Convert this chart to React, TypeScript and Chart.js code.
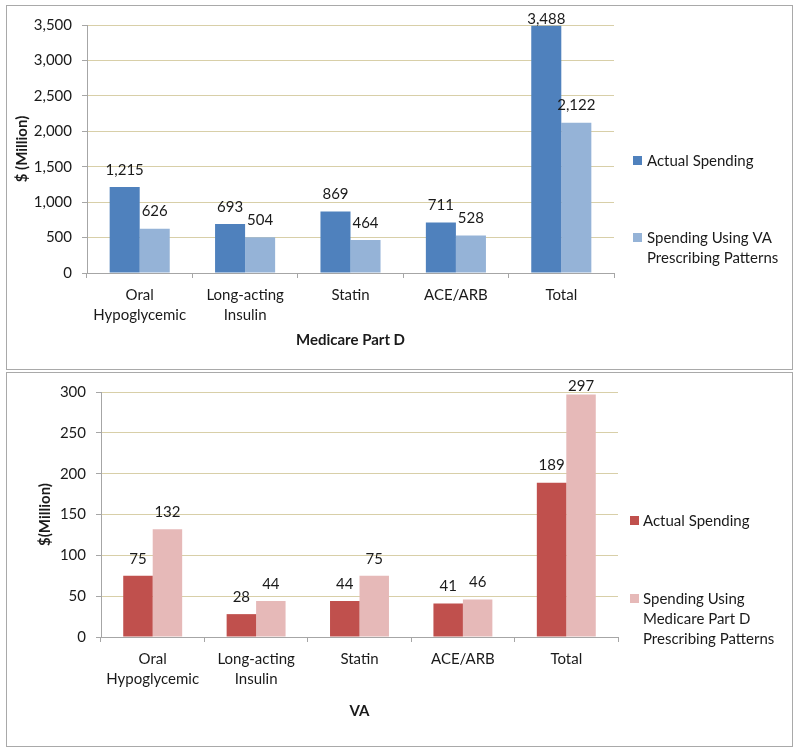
import React, { useEffect, useRef } from 'react';
import { Chart, registerables } from 'chart.js';
Chart.register(...registerables);

// ---- data ----
const categories = [['Oral', 'Hypoglycemic'], ['Long-acting', 'Insulin'], 'Statin', 'ACE/ARB', 'Total'];
const medicareActual = [1215, 693, 869, 711, 3488];
const medicareVAPattern = [626, 504, 464, 528, 2122];
const vaActual = [75, 28, 44, 41, 189];
const vaMedicarePattern = [132, 44, 75, 46, 297];
const medicareLegend = [['Actual Spending'], ['Spending Using VA', 'Prescribing Patterns']];
const vaLegend = [['Actual Spending'], ['Spending Using', 'Medicare Part D', 'Prescribing Patterns']];

const FONT = 'Lato, "Open Sans", sans-serif';
const TEXT = '#1a1a1a';
const GRID = '#D8CFA8';
const AXIS = '#A6A6A6';

const overlayPlugin = {
  id: 'overlay',
  afterDatasetsDraw(chart: any) {
    const opts = chart.options.plugins.overlay;
    const ctx = chart.ctx;
    const area = chart.chartArea;
    ctx.save();
    ctx.font = `15px ${FONT}`;
    ctx.fillStyle = TEXT;
    ctx.textAlign = 'center';
    ctx.textBaseline = 'middle';
    chart.data.datasets.forEach((ds: any, di: number) => {
      const meta = chart.getDatasetMeta(di);
      meta.data.forEach((el: any, i: number) => {
        const v = ds.data[i];
        const y = Math.max(el.y - 17, area.top - 6);
        ctx.fillText(v.toLocaleString('en-US'), el.x, y);
      });
    });
    // legend
    ctx.textAlign = 'left';
    opts.legend.forEach((lines: string[], li: number) => {
      const baseY = opts.legendY[li];
      ctx.fillStyle = chart.data.datasets[li].backgroundColor;
      ctx.fillRect(area.right + opts.boxDx, baseY - 5, 9, 9);
      ctx.fillStyle = TEXT;
      lines.forEach((t, k) => {
        ctx.fillText(t, area.right + opts.textDx, baseY + k * 20);
      });
    });
    ctx.restore();
  },
};

type Cfg = {
  width: number; height: number;
  a: number[]; b: number[];
  colA: string; colB: string;
  labelA: string; labelB: string;
  max: number; step: number;
  yTitle: string; xTitle: string;
  yWidth: number; xHeight: number; padTop: number; padRight: number;
  yTitlePad: number; xTitlePad: number;
  legend: string[][]; legendY: number[]; boxDx: number; textDx: number;
};

function BarChart({ cfg }: { cfg: Cfg }) {
  const ref = useRef<HTMLCanvasElement>(null);
  useEffect(() => {
    const chart = new Chart(ref.current!, {
      type: 'bar',
      data: {
        labels: categories as any,
        datasets: [
          { label: cfg.labelA, data: cfg.a, backgroundColor: cfg.colA, categoryPercentage: 0.57, barPercentage: 1 },
          { label: cfg.labelB, data: cfg.b, backgroundColor: cfg.colB, categoryPercentage: 0.57, barPercentage: 1 },
        ],
      },
      options: {
        responsive: false,
        animation: false,
        devicePixelRatio: 1,
        layout: { padding: { left: 0, top: cfg.padTop, right: cfg.padRight, bottom: 0 } },
        plugins: {
          legend: { display: false },
          tooltip: { enabled: false },
          overlay: { legend: cfg.legend, legendY: cfg.legendY, boxDx: cfg.boxDx, textDx: cfg.textDx },
        } as any,
        scales: {
          x: {
            grid: { display: true, drawOnChartArea: false, drawTicks: true, tickLength: 5, tickColor: AXIS, offset: true },
            border: { display: true, color: AXIS },
            ticks: { color: TEXT, font: { family: FONT, size: 15, lineHeight: 1.333 }, padding: 7, autoSkip: false, maxRotation: 0 },
            title: { display: true, text: cfg.xTitle, color: TEXT, font: { family: FONT, size: 15, weight: 'bold', lineHeight: 1.2 }, padding: { top: 0, bottom: cfg.xTitlePad } },
            afterFit: (s: any) => { s.height = cfg.xHeight; },
          },
          y: {
            min: 0, max: cfg.max,
            grid: { color: GRID, tickLength: 5, tickColor: AXIS },
            border: { display: true, color: AXIS },
            ticks: {
              stepSize: cfg.step, color: TEXT, padding: 10,
              font: { family: FONT, size: 15 },
              callback: (v: any) => Number(v).toLocaleString('en-US'),
            },
            title: { display: true, text: cfg.yTitle, color: TEXT, font: { family: FONT, size: 15, weight: 'bold', lineHeight: 1.2 }, padding: { top: cfg.yTitlePad, bottom: 0 } },
            afterFit: (s: any) => { s.width = cfg.yWidth; },
          },
        },
      },
      plugins: [overlayPlugin],
    } as any);
    return () => chart.destroy();
  }, []);
  return <canvas ref={ref} width={cfg.width} height={cfg.height} style={{ display: 'block', width: cfg.width, height: cfg.height }} />;
}

const topCfg: Cfg = {
  width: 785, height: 363,
  a: medicareActual, b: medicareVAPattern,
  colA: '#4F81BD', colB: '#95B3D7',
  labelA: 'Actual Spending', labelB: 'Spending Using VA Prescribing Patterns',
  max: 3500, step: 500,
  yTitle: '$ (Million)', xTitle: 'Medicare Part D',
  yWidth: 80, xHeight: 96, padTop: 18, padRight: 178,
  yTitlePad: 6, xTitlePad: 20,
  legend: medicareLegend, legendY: [155, 232], boxDx: 19, textDx: 33,
};

const bottomCfg: Cfg = {
  width: 785, height: 373,
  a: vaActual, b: vaMedicarePattern,
  colA: '#C0504D', colB: '#E6B9B8',
  labelA: 'Actual Spending', labelB: 'Spending Using Medicare Part D Prescribing Patterns',
  max: 300, step: 50,
  yTitle: '$(Million)', xTitle: 'VA',
  yWidth: 94, xHeight: 109, padTop: 19, padRight: 174,
  yTitlePad: 29, xTitlePad: 26,
  legend: vaLegend, legendY: [148, 226], boxDx: 12, textDx: 25,
};

export default function App() {
  const box: React.CSSProperties = { position: 'absolute', left: 6, width: 785, border: '1px solid #A9A9A9', background: '#fff' };
  return (
    <div style={{ position: 'absolute', left: 0, top: 0, width: 800, height: 752, background: '#fff' }}>
      <div style={{ ...box, top: 5, height: 363 }}>
        <BarChart cfg={topCfg} />
      </div>
      <div style={{ ...box, top: 372, height: 373 }}>
        <BarChart cfg={bottomCfg} />
      </div>
    </div>
  );
}
